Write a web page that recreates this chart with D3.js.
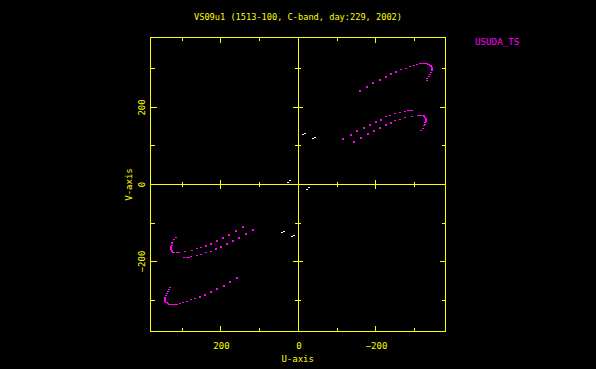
<!DOCTYPE html>
<html><head><meta charset="utf-8">
<script src="https://cdn.jsdelivr.net/npm/d3@7"></script>
<style>body{margin:0;background:#000}svg{display:block}</style></head>
<body>
<svg id="c" width="596" height="369"></svg>
<script>
const title = "VS09u1 (1513-100, C-band, day:229, 2002)";
const legendLabel = "USUDA_TS";
const xLabel = "U-axis";
const yLabel = "V-axis";
const uTickValues = [300, 200, 100, -100, -200, -300];
const vTickValues = [300, 200, 100, -100, -200, -300];
const uLabelValues = [200, 0, -200];
const vLabelValues = [200, 0, -200];

// USUDA_TS baselines, upper right
const trackA = [[-158.5,242.8],[-176.5,253.3],[-193.5,262.9],[-210.1,270.7],[-225.5,279.3],[-240.0,286.3],[-252.9,291.5],[-265.8,296.7],[-277.2,300.9],[-287.5,304.5],[-297.8,307.9],[-306.3,310.5],[-314.1,312.3],[-318.0,312.8],[-321.0,313.1],[-324.0,313.2],[-327.0,313.1],[-330.0,312.8],[-332.9,312.3],[-335.5,311.5],[-338.0,310.5],[-340.0,309.0],[-341.7,307.1],[-343.2,305.0],[-344.3,302.7],[-344.5,300.0],[-344.3,297.5],[-343.5,294.0],[-342.5,290.5],[-339.9,284.5],[-336.5,278.5],[-332.9,274.1],[-331.4,268.9]];
const trackB1 = [[-116.1,117.9],[-135.2,129.1],[-152.3,139.5],[-168.8,147.3],[-184.3,155.1],[-199.7,162.9],[-212.6,168.1],[-225.5,174.4],[-237.4,178.6],[-250.3,183.0],[-261.7,184.8],[-276.1,188.2],[-282.3,190.0],[-288.3,190.0],[-294.2,190.0]];
const trackB2 = [[-143.7,109.3],[-161.0,120.5],[-179.1,130.1],[-195.4,139.5],[-210.8,146.5],[-225.5,154.3],[-239.2,159.6],[-250.3,164.8],[-261.7,167.4],[-275.4,171.8],[-292.6,176.0],[-308.1,178.6],[-314.0,178.6],[-320.0,178.6],[-323.0,177.5],[-325.2,176.0],[-327.5,173.5],[-328.8,170.7],[-329.3,167.8],[-329.5,164.8],[-328.7,161.8],[-327.7,158.8],[-326.5,155.3],[-325.2,151.7],[-321.0,144.7],[-315.9,138.7]];
// lower left
const trackAc = [[158.5,-242.8],[176.5,-253.3],[193.5,-262.9],[210.1,-270.7],[225.5,-279.3],[240.0,-286.3],[252.9,-291.5],[265.8,-296.7],[277.2,-300.9],[287.5,-304.5],[297.8,-307.9],[306.3,-310.5],[314.1,-312.3],[318.0,-312.8],[321.0,-313.1],[324.0,-313.2],[327.0,-313.1],[330.0,-312.8],[332.9,-312.3],[335.5,-311.5],[338.0,-310.5],[340.0,-309.0],[341.7,-307.1],[343.2,-305.0],[344.3,-302.7],[344.5,-300.0],[344.3,-297.5],[343.5,-294.0],[342.5,-290.5],[339.9,-284.5],[336.5,-278.5],[332.9,-274.1],[331.4,-268.9]];
const trackB1c = [[116.1,-117.9],[135.2,-129.1],[152.3,-139.5],[168.8,-147.3],[184.3,-155.1],[199.7,-162.9],[212.6,-168.1],[225.5,-174.4],[237.4,-178.6],[250.3,-183.0],[261.7,-184.8],[276.1,-188.2],[282.3,-190.0],[288.3,-190.0],[294.2,-190.0]];
const trackB2c = [[143.7,-109.3],[161.0,-120.5],[179.1,-130.1],[195.4,-139.5],[210.8,-146.5],[225.5,-154.3],[239.2,-159.6],[250.3,-164.8],[261.7,-167.4],[275.4,-171.8],[292.6,-176.0],[308.1,-178.6],[314.0,-178.6],[320.0,-178.6],[323.0,-177.5],[325.2,-176.0],[327.5,-173.5],[328.8,-170.7],[329.3,-167.8],[329.5,-164.8],[328.7,-161.8],[327.7,-158.8],[326.5,-155.3],[325.2,-151.7],[321.0,-144.7],[315.9,-138.7]];
// short white tracks near the origin
const whitePts = [[-10.8,130.2],[-16.0,132.7],[-36.6,120.5],[-41.8,124.4],[27.9,7.3],[22.7,10.4],[-27.9,-7.3],[-22.7,-10.4],[36.6,-120.5],[41.8,-124.4],[10.8,-130.2],[16.0,-132.7]];

const YEL = "#ffff00", MAG = "#ff00ff";
const FONT = "'DejaVu Sans Mono', monospace";
const svg = d3.select("#c");
svg.append("rect").attr("width", 596).attr("height", 369).attr("fill", "#000");

const x = d3.scaleLinear().domain([381.9, -379.4]).range([150.5, 445.5]);
const y = d3.scaleLinear().domain([-381.8, 381.8]).range([331.5, 37.5]);
const X0 = x(0), Y0 = y(0);
const L = x.range()[0], R = x.range()[1], T = y.range()[1], B = y.range()[0];
const fmt = d => d < 0 ? "\u2212" + Math.abs(d) : String(d);
const isMajor = d => Math.abs(d) % 200 === 0;

const g = svg.append("g").attr("stroke", YEL).attr("stroke-width", 1).attr("shape-rendering", "crispEdges");
g.append("rect").attr("x", L).attr("y", T).attr("width", R - L).attr("height", B - T).attr("fill", "none");
g.append("line").attr("x1", L).attr("x2", R).attr("y1", Y0).attr("y2", Y0);
g.append("line").attr("x1", X0).attr("x2", X0).attr("y1", T).attr("y2", B);

uTickValues.forEach(d => {
  const len = isMajor(d) ? 5.5 : 3.5;
  const px = Math.round(x(d) - 0.5) + 0.5;
  g.append("line").attr("x1", px).attr("x2", px).attr("y1", T).attr("y2", T + len);
  g.append("line").attr("x1", px).attr("x2", px).attr("y1", B).attr("y2", B - len);
  const zl = isMajor(d) ? 4.5 : 2.5;
  g.append("line").attr("x1", px).attr("x2", px).attr("y1", Y0 - zl).attr("y2", Y0 + zl);
});
vTickValues.forEach(d => {
  const len = isMajor(d) ? 6 : 4;
  const py = Math.round(y(d) - 0.5) + 0.5;
  g.append("line").attr("x1", L).attr("x2", L + len).attr("y1", py).attr("y2", py);
  g.append("line").attr("x1", R).attr("x2", R - len).attr("y1", py).attr("y2", py);
  const zl = isMajor(d) ? 5 : 3;
  g.append("line").attr("x1", X0 - zl).attr("x2", X0 + zl).attr("y1", py).attr("y2", py);
});

const ax = svg.append("g").attr("transform", `translate(0,${B})`)
  .call(d3.axisBottom(x).tickValues(uLabelValues).tickFormat(fmt).tickSize(0).tickPadding(11.5));
ax.select(".domain").remove();
ax.selectAll("text").attr("fill", YEL).attr("font-family", FONT).attr("font-size", 9);

const ay = svg.append("g");
ay.selectAll("text").data(vLabelValues).join("text")
  .attr("transform", d => `translate(145,${y(d)}) rotate(-90)`)
  .attr("text-anchor", "middle").attr("fill", YEL).attr("font-family", FONT).attr("font-size", 9)
  .text(fmt);

svg.append("text").attr("x", 298).attr("y", 20).attr("text-anchor", "middle")
  .attr("fill", YEL).attr("font-family", FONT).attr("font-size", 9)
  .attr("textLength", 208).attr("lengthAdjust", "spacingAndGlyphs").text(title);
svg.append("text").attr("x", 297.7).attr("y", 362).attr("text-anchor", "middle")
  .attr("fill", YEL).attr("font-family", FONT).attr("font-size", 9).text(xLabel);
svg.append("text").attr("transform", `translate(131.5,${Y0}) rotate(-90)`).attr("text-anchor", "middle")
  .attr("fill", YEL).attr("font-family", FONT).attr("font-size", 9).text(yLabel);
svg.append("text").attr("x", 475).attr("y", 45)
  .attr("fill", MAG).attr("font-family", FONT).attr("font-size", 9.2).text(legendLabel);

const pts = svg.append("g").attr("shape-rendering", "crispEdges");
[trackA, trackB1, trackB2, trackAc, trackB1c, trackB2c].forEach(tr => {
  pts.append("g").selectAll("rect").data(tr).join("rect")
    .attr("x", d => Math.round(x(d[0])) - 1).attr("y", d => Math.round(y(d[1])) - 1)
    .attr("width", 2).attr("height", (d, i) => i < 7 ? 2 : 1).attr("fill", MAG);
});
pts.append("g").selectAll("rect").data(whitePts).join("rect")
  .attr("x", d => Math.round(x(d[0])) - 1).attr("y", d => Math.round(y(d[1])))
  .attr("width", 2).attr("height", 1).attr("fill", "#fff");
</script>
</body></html>
